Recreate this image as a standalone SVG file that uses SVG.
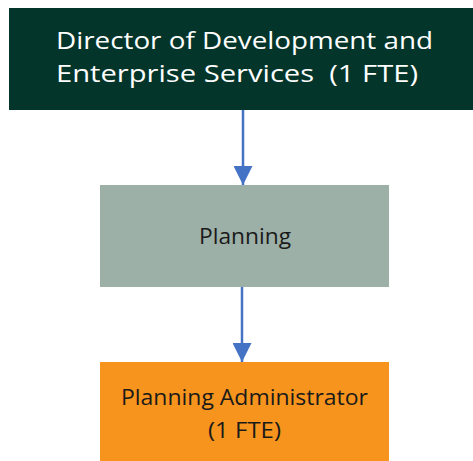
<svg xmlns="http://www.w3.org/2000/svg" width="473" height="461" viewBox="0 0 473 461">
<defs>
<style>
.t{font-family:"Open Sans","Noto Sans","Liberation Sans",sans-serif;text-anchor:middle}
.conn{stroke:#4472C4;stroke-width:2.5;fill:none}
</style>
<marker id="ah" markerWidth="19" markerHeight="19" refX="19" refY="9.5" orient="auto" markerUnits="userSpaceOnUse" viewBox="0 0 19 19">
<path d="M0,0 L19,9.5 L0,19 Z" fill="#4472C4"/>
</marker>
</defs>
<rect width="473" height="461" fill="#ffffff"/>
<g id="connectors">
<line class="conn" x1="243" y1="110" x2="243" y2="185" marker-end="url(#ah)"/>
<line class="conn" x1="242" y1="287" x2="242" y2="362" marker-end="url(#ah)"/>
</g>
<g id="director">
<rect x="9" y="8" width="470" height="102" fill="#04352A"/>
<text class="t" x="244.5" y="49" font-size="24" fill="#ffffff" textLength="377" lengthAdjust="spacingAndGlyphs">Director of Development and</text>
<text class="t" x="237" y="82" font-size="24" fill="#ffffff" textLength="362" lengthAdjust="spacingAndGlyphs" xml:space="preserve" style="white-space:pre">Enterprise Services  (1 FTE)</text>
</g>
<g id="planning">
<rect x="100" y="185" width="289" height="102" fill="#9DB0A7"/>
<text class="t" x="245" y="244" font-size="22" fill="#1a1a1a" textLength="92" lengthAdjust="spacingAndGlyphs">Planning</text>
</g>
<g id="admin">
<rect x="100" y="362" width="289" height="105" fill="#F7941D"/>
<text class="t" x="244.5" y="405" font-size="22" fill="#1a1a1a" textLength="247" lengthAdjust="spacingAndGlyphs">Planning Administrator</text>
<text class="t" x="244.5" y="438" font-size="22" fill="#1a1a1a" textLength="73" lengthAdjust="spacingAndGlyphs">(1 FTE)</text>
</g>
</svg>
